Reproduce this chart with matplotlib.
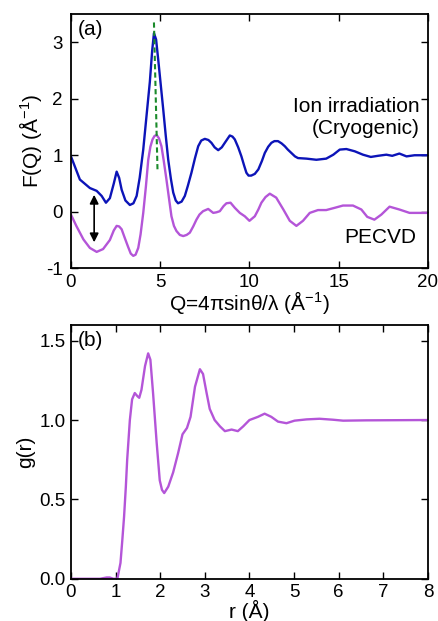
import numpy as np
import matplotlib
matplotlib.use('Agg')
from matplotlib import pyplot as plt

plt.rcParams['font.family'] = ['Liberation Sans', 'DejaVu Sans']
plt.rcParams['mathtext.fontset'] = 'custom'
plt.rcParams['mathtext.rm'] = 'Liberation Sans'
plt.rcParams['mathtext.it'] = 'Liberation Sans:italic'
plt.rcParams['axes.unicode_minus'] = False

blue = '#0c14b8'
purple = '#b455d8'
green = '#1a8a2a'

# F(Q), ion irradiation (cryogenic), already offset by +1
q_ion = [0, 0.5, 1.06, 1.44, 1.72, 1.96, 2.18, 2.4, 2.56, 2.7, 2.84, 3.05, 3.3, 3.5, 3.68,
         3.85, 4.05, 4.25, 4.42, 4.55, 4.65, 4.77, 4.89, 5.03, 5.17, 5.31, 5.45, 5.6, 5.73,
         5.87, 6.0, 6.2, 6.38, 6.55, 6.75, 6.95, 7.13, 7.3, 7.5, 7.7, 7.87, 8.05, 8.25, 8.45,
         8.62, 8.9, 9.05, 9.18, 9.37, 9.55, 9.7, 9.83, 9.95, 10.1, 10.3, 10.5, 10.7, 10.86,
         11.05, 11.23, 11.4, 11.6, 11.8, 11.98, 12.15, 12.35, 12.55, 12.72, 13.2, 13.75, 14.3,
         14.7, 15.06, 15.43, 15.9, 16.36, 16.8, 17.2, 17.67, 18.0, 18.4, 18.8, 19.25, 20]
f_ion = [0.98, 0.57, 0.42, 0.37, 0.28, 0.16, 0.24, 0.5, 0.71, 0.6, 0.39, 0.2, 0.12, 0.15, 0.28,
         0.6, 1.1, 1.75, 2.3, 2.85, 3.16, 3.05, 2.69, 2.25, 1.81, 1.35, 0.92, 0.58, 0.34,
         0.2, 0.15, 0.18, 0.28, 0.46, 0.69, 0.95, 1.16, 1.26, 1.29, 1.27, 1.22, 1.14, 1.09, 1.14,
         1.22, 1.35, 1.33, 1.28, 1.14, 0.98, 0.82, 0.69, 0.64, 0.64, 0.67, 0.75, 0.9, 1.04,
         1.15, 1.22, 1.25, 1.25, 1.21, 1.16, 1.1, 1.04, 0.98, 0.95, 0.94, 0.92, 0.94,
         1.01, 1.1, 1.11, 1.07, 1.01, 0.97, 0.99, 1.01, 0.99, 1.03, 0.98, 1.0, 1.0]

# F(Q), PECVD
q_pecvd = [0, 0.3, 0.7, 1.06, 1.44, 1.8, 2.18, 2.4, 2.56, 2.7, 2.84, 3.0, 3.2, 3.35, 3.49, 3.62,
           3.77, 3.9, 4.05, 4.2, 4.33, 4.45, 4.57, 4.68, 4.8, 4.93, 5.07, 5.2, 5.35, 5.5, 5.63,
           5.77, 5.91, 6.1, 6.29, 6.48, 6.66, 6.85, 7.03, 7.2, 7.4, 7.69, 7.97, 8.15, 8.34, 8.55,
           8.71, 8.94, 9.18, 9.46, 9.74, 10.0, 10.3, 10.5, 10.67, 10.9, 11.14, 11.5, 11.9, 12.26,
           12.63, 13.0, 13.38, 13.84, 14.3, 14.78, 15.24, 15.8, 16.27, 16.6, 17.0, 17.39, 17.85,
           18.4, 18.97, 20]
f_pecvd = [-0.05, -0.25, -0.49, -0.64, -0.71, -0.66, -0.5, -0.33, -0.25, -0.26, -0.31, -0.45,
           -0.62, -0.74, -0.78, -0.76, -0.64, -0.4, -0.02, 0.45, 0.92, 1.15, 1.28, 1.34, 1.36,
           1.3, 1.16, 0.9, 0.57, 0.22, -0.08, -0.25, -0.34, -0.41, -0.43, -0.41, -0.37, -0.26,
           -0.14, -0.05, 0.01, 0.05, -0.02, -0.01, 0.01, 0.1, 0.15, 0.16, 0.07, -0.02, -0.08,
           -0.16, -0.08, 0.04, 0.16, 0.26, 0.32, 0.25, 0.04, -0.16, -0.25, -0.16, -0.02, 0.03,
           0.03, 0.07, 0.11, 0.11, 0.04, -0.09, -0.14, -0.05, 0.09, 0.04, -0.02, -0.02]

# g(r), PECVD
r_vals = [0, 0.35, 0.65, 0.8, 0.87, 0.95, 1.04, 1.11, 1.15, 1.19, 1.23, 1.26, 1.32, 1.37, 1.43,
          1.49, 1.53, 1.58, 1.66, 1.73, 1.78, 1.84, 1.92, 1.99, 2.04, 2.09, 2.18, 2.29, 2.4,
          2.5, 2.6, 2.68, 2.78, 2.89, 2.96, 3.04, 3.11, 3.22, 3.34, 3.45, 3.6, 3.74, 3.86, 4.0,
          4.19, 4.34, 4.49, 4.64, 4.83, 5.01, 5.28, 5.57, 5.87, 6.1, 6.62, 8.0]
g_vals = [0, 0, 0, 0.008, 0.008, 0, 0, 0.1, 0.24, 0.39, 0.58, 0.75, 1.0, 1.13, 1.17,
          1.15, 1.14, 1.19, 1.34, 1.42, 1.38, 1.17, 0.86, 0.62, 0.56, 0.54, 0.58, 0.67, 0.79,
          0.91, 0.95, 1.02, 1.21, 1.32, 1.29, 1.17, 1.07, 1.0, 0.96, 0.93, 0.94, 0.93, 0.96, 1.0,
          1.02, 1.04, 1.02, 0.99, 0.98, 0.996, 1.004, 1.008, 1.002, 0.996, 0.998, 1.0]

fig = plt.figure(figsize=(4.38, 6.21), dpi=100)
ax1 = fig.add_axes([0.162, 0.568, 0.815, 0.4095])
ax2 = fig.add_axes([0.162, 0.068, 0.815, 0.409])

for ax in (ax1, ax2):
    ax.tick_params(direction='in', top=True, right=True, length=5, width=1,
                   labelsize=13.5)
    ax.tick_params(axis='x', pad=4)
    for sp in ax.spines.values():
        sp.set_linewidth(1.3)
ax1.tick_params(axis='y', pad=6)
ax2.tick_params(axis='y', pad=4)

# panel (a)
ax1.plot(q_ion, f_ion, color=blue, lw=1.7)
ax1.plot(q_pecvd, f_pecvd, color=purple, lw=1.7)
ax1.plot([4.65, 4.85], [3.35, 0.72], color=green, lw=1.5, ls=(0, (2.5, 1.5)))
ax1.annotate('', xy=(1.3, 0.3), xytext=(1.3, -0.54),
             arrowprops=dict(arrowstyle='<|-|>', color='black', lw=1.2,
                             mutation_scale=13, shrinkA=0, shrinkB=0))
ax1.set_xlim(0, 20)
ax1.set_ylim(-1, 3.5)
ax1.set_xticks([0, 5, 10, 15, 20])
ax1.set_yticks([-1, 0, 1, 2, 3])
ax1.set_xlabel('Q=4πsinθ/λ (Å$^{-1}$)', fontsize=15, labelpad=-1)
ax1.set_ylabel('F(Q) (Å$^{-1}$)', fontsize=15, labelpad=1)
ax1.text(0.02, 0.975, '(a)', transform=ax1.transAxes, fontsize=15, va='top', ha='left')
ax1.text(19.55, 1.86, 'Ion irradiation', fontsize=15, ha='right', va='center')
ax1.text(19.55, 1.48, '(Cryogenic)', fontsize=15, ha='right', va='center')
ax1.text(19.35, -0.46, 'PECVD', fontsize=15, ha='right', va='center')

# panel (b)
ax2.plot(r_vals, g_vals, color=purple, lw=1.7)
ax2.set_xlim(0, 8)
ax2.set_ylim(0, 1.6)
ax2.set_xticks(range(0, 9))
ax2.set_yticks([0, 0.5, 1.0, 1.5])
ax2.set_yticklabels(['0.0', '0.5', '1.0', '1.5'])
ax2.set_xlabel('r (Å)', fontsize=15, labelpad=-1)
ax2.set_ylabel('g(r)', fontsize=15, labelpad=3)
ax2.text(0.02, 0.975, '(b)', transform=ax2.transAxes, fontsize=15, va='top', ha='left')

plt.savefig('out.png', dpi=100)
